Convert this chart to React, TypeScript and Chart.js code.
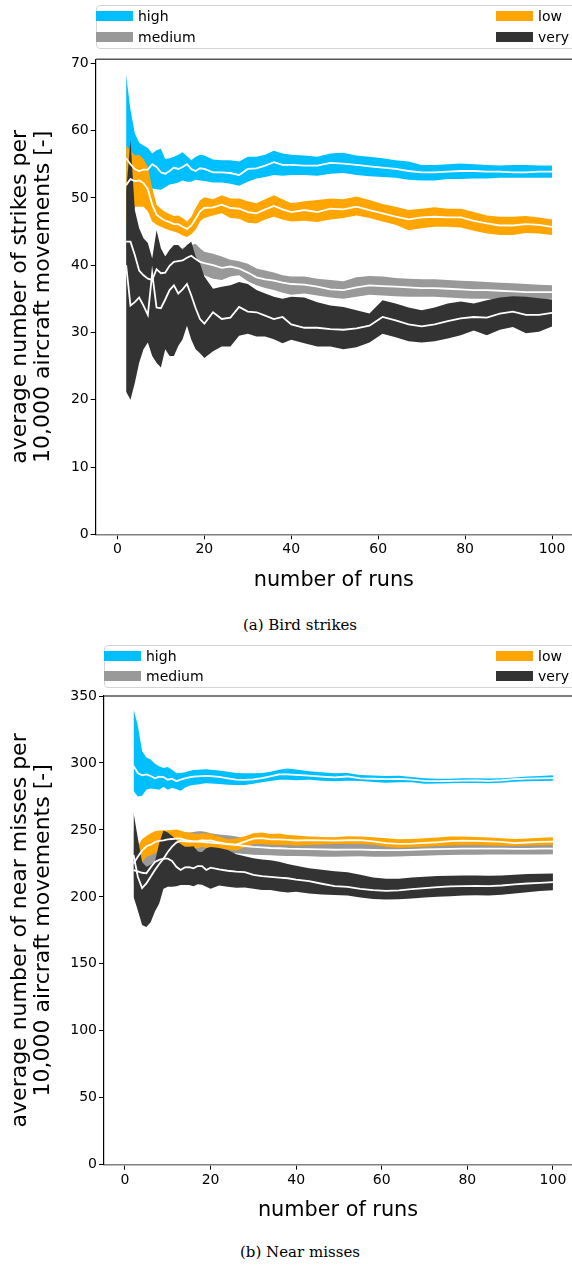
import React, { useEffect, useRef } from "react";
import { Chart, registerables } from "chart.js";

Chart.register(...registerables);

// ---------- data ----------
const RUNS = [2,3,4,5,6,7,8,9,10,11,12,13,14,15,16,17,18,19,20,22,24,26,28,30,32,34,36,38,40,43,46,49,52,55,58,61,64,67,70,73,76,79,82,85,88,91,94,97,100];

const SERIES_NAMES = ["high", "medium", "low", "very"];
const SERIES_COLORS = ["#00BFFF", "#999999", "#FFA500", "#333333"];

// (a) bird strikes
const STRIKES_HIGH_UPPER = [68.3,63.1,59.6,58.2,57.8,57.4,56.6,57.1,57.3,55.8,55.9,56.1,56.4,56.8,56.2,55.6,56.1,56.4,56.3, 55.7,55.6,55.6,55.4,56.1,56.1,56.4,57.0,56.6,56.4, 56.3,56.1,56.6,56.7,56.3,56.1,55.9,55.6,55.4,54.9,54.9,55.0,55.1,55.0,54.9,54.8,54.9,54.9,54.8,54.8];
const STRIKES_HIGH_LOWER = [43.5,46.5,48.5,50.0,50.8,51.2,51.4,51.3,51.2,51.6,52.0,52.1,52.3,52.6,52.4,52.4,52.7,52.6,52.5, 52.3,52.3,52.1,51.8,52.4,52.9,53.1,53.4,53.3,53.4, 53.4,53.3,53.6,53.7,53.4,53.2,53.1,53.0,52.7,52.6,52.6,52.8,52.8,52.9,52.9,53.0,53.0,53.0,53.0,53.0];
const STRIKES_HIGH_MEAN = [55.9,55.0,54.3,54.0,54.2,54.2,55.0,54.6,53.8,53.6,54.0,54.5,54.3,54.6,55.0,54.3,54.0,54.4,54.3, 53.8,53.8,53.7,53.4,54.3,54.4,54.8,55.3,54.9,54.9, 54.8,54.8,55.2,55.1,54.9,54.7,54.5,54.3,54.0,53.8,53.8,53.9,54.0,54.0,53.9,53.9,53.8,53.8,53.9,53.9];

const STRIKES_MEDIUM_UPPER = [47.0,48.0,46.0,44.0,42.5,41.5,40.8,42.0,41.5,41.3,42.0,42.3,42.4,42.5,42.8,43.0,43.2,42.5,42.0, 41.7,41.3,40.8,40.6,40.2,39.5,39.2,38.9,38.5,38.3, 38.3,38.0,37.8,37.6,38.2,38.4,38.3,38.1,38.0,37.9,37.9,37.8,37.7,37.6,37.5,37.4,37.3,37.2,37.1,37.0];
const STRIKES_MEDIUM_LOWER = [38.0,37.0,36.0,34.5,34.0,34.0,34.5,36.0,36.0,36.5,37.5,38.5,38.7,38.9,39.3,39.6,38.8,38.5,38.5, 38.0,37.8,38.3,38.5,37.6,37.0,36.6,36.3,35.9,35.6, 35.8,35.5,35.2,35.0,35.3,35.6,35.5,35.4,35.3,35.3,35.3,35.2,35.1,35.0,35.0,34.9,34.9,34.9,34.9,35.0];
const STRIKES_MEDIUM_MEAN = [43.5,43.5,41.5,39.2,38.5,38.0,37.8,39.4,38.8,38.9,39.9,40.5,40.6,40.7,41.1,41.4,40.9,40.5,40.3, 40.0,39.6,39.8,39.5,38.9,38.2,37.9,37.7,37.4,37.2, 37.1,36.8,36.4,36.3,36.7,37.0,36.9,36.8,36.7,36.6,36.6,36.5,36.4,36.3,36.3,36.2,36.1,36.0,36.0,36.0];

const STRIKES_LOW_UPPER = [57.7,57.1,56.3,56.4,55.8,54.6,51.5,49.0,48.4,47.9,47.6,47.3,47.4,47.0,46.5,47.2,48.5,49.6,50.1, 49.8,50.4,49.9,49.9,49.5,49.2,49.8,50.4,49.8,49.2, 49.5,49.7,49.9,49.8,50.2,49.7,49.1,48.7,48.2,48.4,48.6,48.4,48.4,47.9,47.4,47.2,47.2,47.3,47.1,46.8];
const STRIKES_LOW_LOWER = [46.0,48.5,48.7,48.7,48.7,48.0,46.5,46.0,45.7,45.4,45.2,45.0,44.8,44.4,44.2,44.6,45.3,46.5,47.0, 47.4,47.7,47.0,46.9,46.3,46.2,46.8,47.2,46.8,46.5, 46.6,46.4,46.8,47.0,47.4,47.0,46.5,46.0,45.2,45.5,45.7,45.7,45.6,45.1,44.7,44.5,44.5,44.8,44.7,44.5];
const STRIKES_LOW_MEAN = [51.9,52.8,52.5,52.6,52.2,51.3,49.0,47.5,47.0,46.6,46.4,46.1,46.1,45.7,45.4,45.9,46.9,48.0,48.5, 48.6,49.0,48.5,48.4,47.9,47.7,48.3,48.8,48.3,47.9, 48.2,47.9,48.4,48.3,48.7,48.2,47.7,47.2,46.8,47.1,47.2,47.1,47.1,46.6,46.2,45.9,45.9,46.1,46.0,45.7];

const STRIKES_VERY_UPPER = [50.9,58.6,48.2,45.5,44.0,43.3,41.0,45.2,42.5,41.3,42.3,43.0,43.0,42.3,43.0,43.5,41.3,40.3,38.3, 36.5,36.8,37.0,37.5,37.2,36.3,35.8,35.3,35.0,35.3, 35.2,34.5,34.0,33.8,33.3,32.8,34.8,34.3,33.7,33.3,33.7,34.3,34.6,34.3,34.8,35.2,35.4,35.3,35.1,34.9];
const STRIKES_VERY_LOWER = [21.2,20.0,22.5,25.5,27.5,28.5,26.5,25.5,24.8,27.5,26.5,26.5,28.0,29.0,31.0,28.9,27.5,26.9,26.2, 27.2,27.9,27.9,29.5,29.8,29.4,29.4,29.0,28.4,28.9, 28.4,27.9,27.9,27.5,27.8,28.5,29.8,29.3,28.7,28.5,28.7,29.1,29.6,30.3,29.6,30.4,30.8,29.9,30.1,30.9];
const STRIKES_VERY_MEAN = [40.0,34.0,34.5,35.2,34.0,32.6,38.8,33.7,33.6,34.9,36.3,37.0,35.8,36.4,37.2,35.5,33.6,32.0,31.3, 33.0,32.0,32.2,33.8,33.1,33.0,32.5,32.0,32.3,31.2, 30.7,30.7,30.5,30.4,30.6,31.0,32.3,31.8,31.2,30.9,31.2,31.7,32.1,32.3,32.2,32.8,33.1,32.6,32.6,32.9];

// (b) near misses
const MISSES_HIGH_UPPER = [340.1,328,309,304,302.5,299.5,297.5,296.2,297,295,292.5,292.5,293,294,294.8,295,295.2,295.3,295, 294.3,293.5,292.5,292.3,292.3,292.5,293.5,295,295.8,295.2, 293.8,293,292.3,292.5,291,290.6,290.2,290.4,289.6,288.5,288.3,288.3,288.5,288.6,288.4,288.6,289.2,289.8,290.3,290.8];
const MISSES_HIGH_LOWER = [279,275,275.5,280,281,280.5,280,282.3,280,281.3,280.5,279.3,281.5,283,283.5,284,284.4,284.8,284.6, 284.3,283.8,283.6,283.6,284.5,285.5,286.5,287.5,287.5,287, 287.5,286.8,286.3,286.8,286.5,285.8,285.3,285.6,285.5,284.5,284.7,284.8,285.1,285,284.8,285.2,286,286.4,286.6,286.8];
const MISSES_HIGH_MEAN = [297.7,292.5,290.8,291.5,290.3,288.5,289.8,289.5,287.5,288.3,286.3,287.5,288.5,289.3,289.8,290,290.2,290.3,290.1, 289.6,288.5,287.5,287.3,287.8,288.6,290,291.5,291.5,291.1, 290.6,289.8,289.2,289.9,288.5,288.2,287.9,288.1,287.6,286.6,286.5,286.6,286.8,286.9,286.6,287.1,288,288.3,288.5,288.6];

const MISSES_MEDIUM_UPPER = [250,235,232,232,234,236,239,242,245,247,248,248,248,248,248.5,249,249,248.5,247.5, 246.5,246,245,244,243,242.5,242,241.8,241.5,241.3, 241,240.8,240.5,240.5,240.3,240,239.8,239.7,239.8,240,240.2,240.3,240.5,240.5,240.5,240.4,240.3,240.3,240.4,240.5];
const MISSES_MEDIUM_LOWER = [212,190,181,188,196,204,210,215,222,228,233,235,235,235,234.5,234,233.5,233.5,233.5, 233.3,233,232.6,232,231.5,231.3,231,230.8,230.5,230.5, 230.3,230,230,230.2,230.3,230,230,230.2,230.5,230.8,231,231.2,231.5,231.5,231.6,231.6,231.6,231.6,231.7,231.8];
const MISSES_MEDIUM_MEAN = [231.3,215,206.5,210,215,220,224.5,228.5,233.5,237.5,240.5,241.8,241.5,241.3,241.3,241.2,241,240.8,240.5, 240,239.5,238.8,238,237.3,236.9,236.5,236.3,236,235.9, 235.7,235.4,235.2,235.3,235.3,235,234.9,234.9,235.1,235.4,235.6,235.8,236,236,236,236,235.9,235.9,236,236.1];

const MISSES_LOW_UPPER = [236,238,243,245.5,247.5,249,249.5,249.5,249.8,250,250.3,249.5,248.5,247.8,247.3,247,247.3,247.5,247.2, 245,243,243.5,245.3,247.5,248,247,247.3,246.2,245.8, 245,244.8,244.6,245.2,245,244.5,243.8,243,243.3,243.7,244.3,245,245,244.8,244.3,243.8,243.2,243.5,244.2,244.5];
const MISSES_LOW_LOWER = [214,222,226,230,231,232.5,234,235,236,236.5,237,237.5,236.8,236,235.5,236.5,237.5,236.5,237.3, 236.3,235.3,234.6,237,239.5,239.5,239,238.8,238.7,238.3, 238.8,239.2,239.4,239.5,239.5,239,237.5,236.5,237,237.5,238,238.3,238.6,238.8,238.4,238.1,238,238.3,238.5,238.8];
const MISSES_LOW_MEAN = [225,230,234.5,237.8,239,241,241.8,242.2,243,243.2,243.6,243.5,242.6,241.9,241.4,241.7,242.4,242,242.2, 240.6,239.2,239,241.2,243.5,243.8,243,243,242.5,242.1, 242.4,242.2,242,242.3,242.3,241.5,240.1,239.6,239.8,240.3,240.8,241.6,242,241.8,241.4,241,240.2,240.6,241,241.3];

const MISSES_VERY_UPPER = [263,244,226,222.5,224,226.5,240,249.5,248,245.5,242.5,239.5,237.5,237.5,237.8,234,233.5,236.3,237.2, 236.5,235,231.8,230.3,228.8,228,227.3,226.3,224.5,223.2, 221.3,220.3,219.2,218.3,216.5,214.5,213.5,213.5,214.5,215,215.5,215.8,216,216,215.8,216,216.5,217,217.3,217.5];
const MISSES_VERY_LOWER = [200,190,179,177.5,181,189,195,206,207.6,207.6,208,208.9,208.9,208.9,208,209.5,209,207.6,206, 208.5,207.5,206.8,207,206,205.2,205.2,204,203.3,203.9, 202.5,201.8,201.4,201,199.5,198.5,198,198.3,198.8,199.5,200,200.5,201,201.2,201,201.5,202.5,203.5,204.3,205];
const MISSES_VERY_MEAN = [220,219,218,217.6,222,226,227.6,228.5,228.5,226.8,222.5,220.1,222,222.2,221.3,223,223,220.1,221.8, 220.5,219.5,218.9,218.5,216.4,215.5,215,214.4,213.9,212.9, 211.8,209.8,208,207.5,206,205,204.5,204.8,205.8,206.5,207.3,207.8,208,208.2,208,208.5,209.3,210,210.5,211];

const X_TICKS = [0, 20, 40, 60, 80, 100];
const STRIKES_Y_TICKS = [0, 10, 20, 30, 40, 50, 60, 70];
const MISSES_Y_TICKS = [0, 50, 100, 150, 200, 250, 300, 350];

const SANS = '"DejaVu Sans", sans-serif';
const SERIF = '"DejaVu Serif", serif';

type Band = { upper: number[]; lower: number[]; mean: number[] };

const STRIKES: Band[] = [
  { upper: STRIKES_HIGH_UPPER, lower: STRIKES_HIGH_LOWER, mean: STRIKES_HIGH_MEAN },
  { upper: STRIKES_MEDIUM_UPPER, lower: STRIKES_MEDIUM_LOWER, mean: STRIKES_MEDIUM_MEAN },
  { upper: STRIKES_LOW_UPPER, lower: STRIKES_LOW_LOWER, mean: STRIKES_LOW_MEAN },
  { upper: STRIKES_VERY_UPPER, lower: STRIKES_VERY_LOWER, mean: STRIKES_VERY_MEAN },
];
const MISSES: Band[] = [
  { upper: MISSES_HIGH_UPPER, lower: MISSES_HIGH_LOWER, mean: MISSES_HIGH_MEAN },
  { upper: MISSES_MEDIUM_UPPER, lower: MISSES_MEDIUM_LOWER, mean: MISSES_MEDIUM_MEAN },
  { upper: MISSES_LOW_UPPER, lower: MISSES_LOW_LOWER, mean: MISSES_LOW_MEAN },
  { upper: MISSES_VERY_UPPER, lower: MISSES_VERY_LOWER, mean: MISSES_VERY_MEAN },
];

const pts = (arr: number[]) => RUNS.map((x, i) => ({ x, y: arr[i] }));

function buildDatasets(bands: Band[]) {
  const ds: any[] = [];
  bands.forEach((b, k) => {
    const order = 40 - k * 10; // high bottom-most, very top-most
    ds.push({
      label: SERIES_NAMES[k] + " upper",
      data: pts(b.upper),
      fill: "+1",
      backgroundColor: SERIES_COLORS[k],
      borderColor: "rgba(0,0,0,0)",
      borderWidth: 0,
      pointRadius: 0,
      tension: 0,
      order,
    });
    ds.push({
      label: SERIES_NAMES[k] + " lower",
      data: pts(b.lower),
      fill: false,
      borderColor: "rgba(0,0,0,0)",
      borderWidth: 0,
      pointRadius: 0,
      tension: 0,
      order,
    });
  });
  bands.forEach((b, k) => {
    ds.push({
      label: SERIES_NAMES[k],
      data: pts(b.mean),
      fill: false,
      borderColor: "#ffffff",
      borderWidth: 1.8,
      pointRadius: 0,
      tension: 0,
      order: 0,
    });
  });
  return ds;
}

const topLinePlugin = {
  id: "topLine",
  afterDraw(chart: any) {
    const { ctx, chartArea: a } = chart;
    ctx.save();
    ctx.strokeStyle = "#555555";
    ctx.lineWidth = 1.5;
    ctx.beginPath();
    ctx.moveTo(a.left, a.top);
    ctx.lineTo(a.right, a.top);
    ctx.stroke();
    ctx.restore();
  },
};

type PanelProps = {
  top: number;
  height: number;
  padTop: number;
  axisWidth: number;
  xAxisHeight: number;
  xMin: number;
  xMax: number;
  yMax: number;
  yTicks: number[];
  yTitle: string[];
  bands: Band[];
};

function Panel(p: PanelProps) {
  const ref = useRef<HTMLCanvasElement | null>(null);
  useEffect(() => {
    if (!ref.current) return;
    const chart = new Chart(ref.current, {
      type: "line",
      data: { datasets: buildDatasets(p.bands) },
      options: {
        animation: false,
        responsive: false,
        events: [],
        layout: { padding: { top: p.padTop, left: 0, right: 0, bottom: 0 } },
        plugins: {
          legend: { display: false },
          tooltip: { enabled: false },
        },
        scales: {
          x: {
            type: "linear",
            min: p.xMin,
            max: p.xMax,
            afterBuildTicks: (s: any) => {
              s.ticks = X_TICKS.map((v) => ({ value: v }));
            },
            afterFit: (s: any) => {
              s.height = p.xAxisHeight;
            },
            grid: { drawOnChartArea: false, drawTicks: true, tickLength: 5, tickColor: "#000", tickWidth: 1 },
            border: { display: true, color: "#808080", width: 1.5 },
            ticks: { font: { family: SANS, size: 14 }, color: "#000", padding: 2, maxRotation: 0, autoSkip: false },
            title: {
              display: true,
              text: "number of runs",
              font: { family: SANS, size: 20.8, lineHeight: 1.1 },
              color: "#000",
              padding: { top: 0, bottom: 8 },
            },
          },
          y: {
            type: "linear",
            min: 0,
            max: p.yMax,
            afterBuildTicks: (s: any) => {
              s.ticks = p.yTicks.map((v) => ({ value: v }));
            },
            afterFit: (s: any) => {
              s.width = p.axisWidth;
            },
            grid: { drawOnChartArea: false, drawTicks: true, tickLength: 5, tickColor: "#000", tickWidth: 1 },
            border: { display: true, color: "#000", width: 1.2 },
            ticks: { font: { family: SANS, size: 14 }, color: "#000", padding: 2, autoSkip: false },
            title: {
              display: true,
              text: p.yTitle,
              font: { family: SANS, size: 22, lineHeight: 1.05 },
              color: "#000",
              padding: { top: 8.5, bottom: 0 },
            },
          },
        },
      } as any,
      plugins: [topLinePlugin],
    });
    return () => chart.destroy();
  }, []);
  return (
    <canvas
      ref={ref}
      width={572}
      height={p.height}
      style={{ position: "absolute", left: 0, top: p.top, width: 572, height: p.height }}
    />
  );
}

type LegendProps = { left: number; top: number; width: number; height: number; rowY: number[]; colX: number[] };

function Legend({ left, top, width, height, rowY, colX }: LegendProps) {
  // column-major: high, medium | low, very
  const items = SERIES_NAMES.map((name, k) => ({
    name,
    color: SERIES_COLORS[k],
    x: colX[Math.floor(k / 2)],
    y: rowY[k % 2],
  }));
  return (
    <>
      <div
        style={{
          position: "absolute",
          left,
          top,
          width,
          height,
          border: "1px solid #d4d4d4",
          borderRadius: 4,
          boxSizing: "border-box",
        }}
      />
      {items.map((it) => (
        <React.Fragment key={it.name}>
          <div
            style={{
              position: "absolute",
              left: it.x,
              top: it.y - 5,
              width: 37,
              height: 10,
              background: it.color,
            }}
          />
          <div
            style={{
              position: "absolute",
              left: it.x + 42,
              top: it.y - 10,
              height: 20,
              lineHeight: "20px",
              fontFamily: SANS,
              fontSize: 14,
              color: "#000",
              whiteSpace: "nowrap",
            }}
          >
            {it.name}
          </div>
        </React.Fragment>
      ))}
    </>
  );
}

function Caption({ text, y }: { text: string; y: number }) {
  return (
    <div
      style={{
        position: "absolute",
        left: 150,
        width: 300,
        top: y - 10,
        height: 20,
        lineHeight: "20px",
        textAlign: "center",
        fontFamily: SERIF,
        fontSize: 15,
        color: "#000",
      }}
    >
      {text}
    </div>
  );
}

export default function App() {
  return (
    <div
      style={{
        position: "absolute",
        left: 0,
        top: 0,
        width: 572,
        height: 1266,
        overflow: "hidden",
        background: "#fff",
      }}
    >
      <Panel
        top={0}
        height={600}
        padTop={59.3}
        axisWidth={95.7}
        xAxisHeight={65.7}
        xMin={-5}
        xMax={104.6}
        yMax={70.6}
        yTicks={STRIKES_Y_TICKS}
        yTitle={["average number of strikes per", "10,000 aircraft movements [-]"]}
        bands={STRIKES}
      />
      <Legend left={96} top={5} width={482} height={44} rowY={[16, 37]} colX={[96, 496]} />
      <Caption text="(a) Bird strikes" y={625} />
      <Panel
        top={630}
        height={600}
        padTop={66}
        axisWidth={104}
        xAxisHeight={65.3}
        xMin={-4.9}
        xMax={104.45}
        yMax={350}
        yTicks={MISSES_Y_TICKS}
        yTitle={["average number of near misses per", "10,000 aircraft movements [-]"]}
        bands={MISSES}
      />
      <Legend left={104} top={645} width={474} height={43} rowY={[656, 676]} colX={[104, 496]} />
      <Caption text="(b) Near misses" y={1252} />
    </div>
  );
}
